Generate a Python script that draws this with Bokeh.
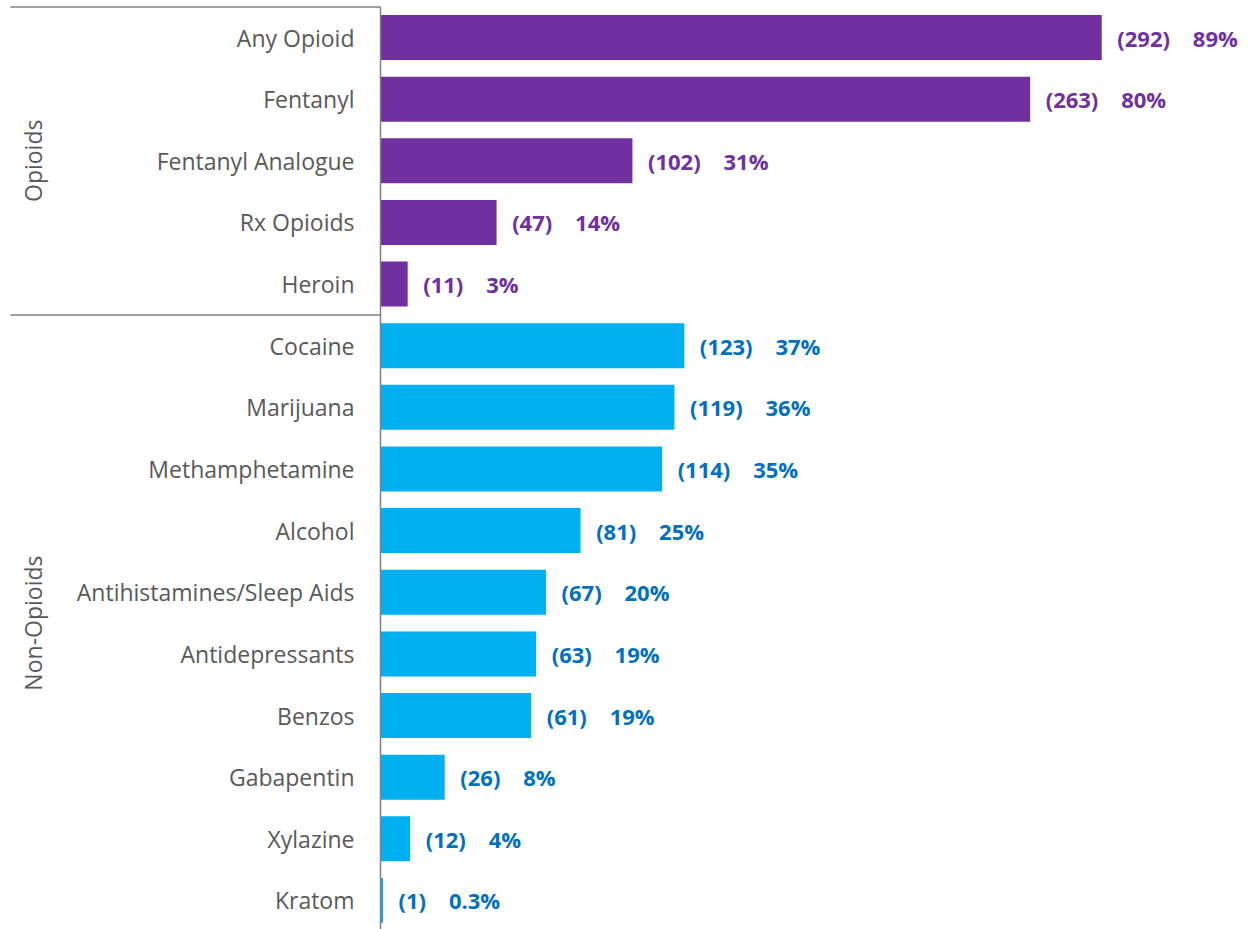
import math
from bokeh.plotting import figure
from bokeh.models import ColumnDataSource, Range1d
from bokeh.core.properties import value
from bokeh.embed import file_html
from bokeh.resources import INLINE

categories = ["Any Opioid", "Fentanyl", "Fentanyl Analogue", "Rx Opioids", "Heroin",
              "Cocaine", "Marijuana", "Methamphetamine", "Alcohol",
              "Antihistamines/Sleep Aids", "Antidepressants", "Benzos",
              "Gabapentin", "Xylazine", "Kratom"]
counts = [292, 263, 102, 47, 11, 123, 119, 114, 81, 67, 63, 61, 26, 12, 1]
percents = ["89%", "80%", "31%", "14%", "3%", "37%", "36%", "35%", "25%",
            "20%", "19%", "19%", "8%", "4%", "0.3%"]
groups = ["Opioids"] * 5 + ["Non-Opioids"] * 10
group_names = ["Opioids", "Non-Opioids"]

BAR_COLORS = {"Opioids": "#7030A0", "Non-Opioids": "#00B0F0"}
TEXT_COLORS = {"Opioids": "#7030A0", "Non-Opioids": "#0070C0"}
GREY = "#595959"
FONT = "Open Sans"

W, H = 1240, 929
SCALE = 2.47          # px per count
AXIS_PX = 380         # axis position from left of figure
ROW = 61.64
FIRST = 37.0

x0 = -AXIS_PX / SCALE
x1 = x0 + W / SCALE
y_top = -FIRST / ROW
y_bot = (H - FIRST) / ROW
NB = "\u00a0"

pos = list(range(len(categories)))
src = ColumnDataSource(dict(
    y=pos, cat=categories, cnt=counts,
    lab=[f"({c}){NB}{NB}{NB}{NB}{p}" for c, p in zip(counts, percents)],
    lx=[c + 6.3 for c in counts],
    bc=[BAR_COLORS[g] for g in groups],
    tc=[TEXT_COLORS[g] for g in groups],
))

p = figure(width=W, height=H, x_range=Range1d(x0, x1), y_range=Range1d(y_bot, y_top),
           output_backend="svg", toolbar_location=None, min_border=0)
p.axis.visible = False
p.grid.visible = False
p.outline_line_color = None

p.hbar(y="y", left=0, right="cnt", height=0.73, fill_color="bc", line_color=None, source=src)

p.text(x=-26 / SCALE, y="y", text="cat", source=src, text_align="right", text_baseline="middle",
       text_font=value(FONT), text_font_size="23px", text_color=GREY)

p.text(x="lx", y="y", text="lab", source=src, text_align="left", text_baseline="middle",
       text_font=value(FONT), text_font_size="22px", text_font_style="bold", text_color="tc")

# group labels
gy = []
for g in group_names:
    idx = [i for i, gg in enumerate(groups) if gg == g]
    gy.append((idx[0] + idx[-1]) / 2)
p.text(x=[(32 - AXIS_PX) / SCALE] * 2, y=gy, text=group_names, angle=math.pi / 2,
       text_align="center", text_baseline="middle", text_font=value(FONT),
       text_font_size="23px", text_color=GREY)

# separator lines
top_line = -30.5 / ROW
boundaries = [top_line, 4.5]
p.segment(x0=[(10 - AXIS_PX) / SCALE] * 2, x1=[0, 0], y0=boundaries, y1=boundaries,
          line_color="#808080", line_width=1.5)
# vertical axis line
p.segment(x0=[0], x1=[0], y0=[top_line], y1=[y_bot], line_color="#808080", line_width=1.5)

open("out.html", "w").write(file_html(p, INLINE))
